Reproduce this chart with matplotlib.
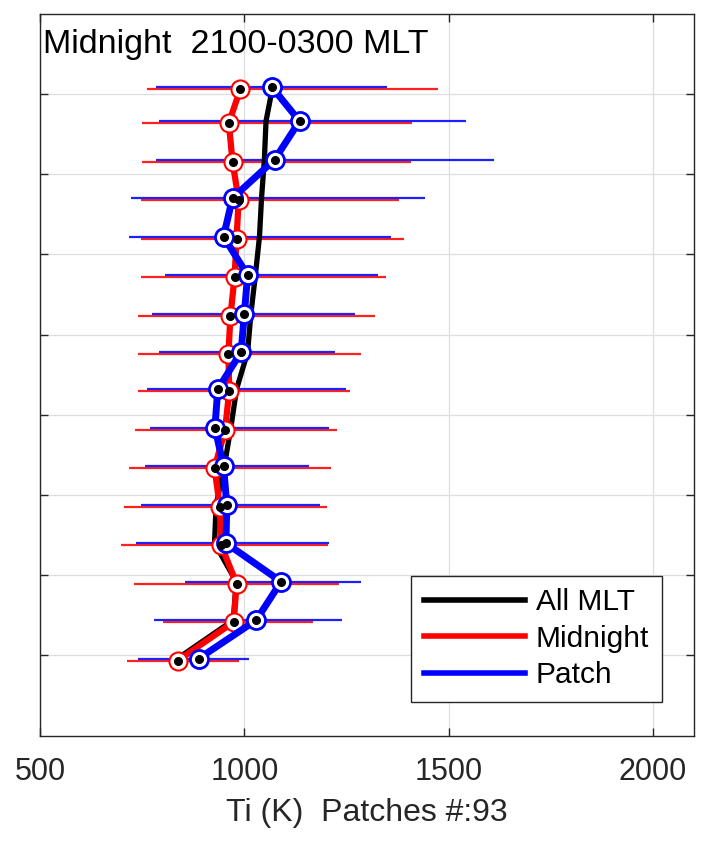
import matplotlib
matplotlib.use('Agg')
import matplotlib.pyplot as plt
from matplotlib.lines import Line2D
import numpy as np

plt.rcParams['font.family'] = ['Liberation Sans', 'DejaVu Sans']

# altitude levels (bottom to top), y axis has no labels
alt = [198, 222, 246, 270, 294, 318, 342, 366, 389, 413, 437, 461, 485, 509, 533, 554]

# All MLT mean Ti (K)
ti_all = [836, 973, 980, 927, 931, 951, 967, 981, 1008, 1016, 1027, 1037, 1042, 1049, 1053, 1069]

# Midnight sector Ti and its spread
ti_mid = [837, 974, 981, 943, 940, 927, 953, 963, 961, 966, 976, 981, 986, 971, 962, 990]
mid_lo = [714, 800, 729, 699, 706, 718, 733, 741, 741, 741, 747, 747, 747, 749, 749, 763]
mid_hi = [988, 1169, 1231, 1205, 1201, 1212, 1227, 1259, 1286, 1320, 1346, 1390, 1379, 1407, 1409, 1474]

# Patch Ti and its spread
ti_patch = [888, 1029, 1090, 955, 957, 949, 928, 935, 992, 1000, 1008, 949, 971, 1074, 1135, 1068]
patch_lo = [740, 779, 855, 735, 746, 757, 769, 762, 792, 774, 806, 718, 723, 784, 792, 784]
patch_hi = [1012, 1239, 1285, 1208, 1186, 1157, 1208, 1249, 1221, 1270, 1328, 1358, 1442, 1610, 1543, 1348]

title_text = 'Midnight  2100-0300 MLT'
xlabel_text = 'Ti (K)  Patches #:93'
xticks = [500, 1000, 1500, 2000]
yticks = [200, 250, 300, 350, 400, 450, 500, 550]

axis_col = '#262626'

fig = plt.figure(figsize=(7.09, 8.43), dpi=100)
ax = fig.add_axes([0.0564, 0.1273, 0.9224, 0.8566])

y = np.array(alt, dtype=float)
y_red = y - 1.2  # red drawn slightly lower, as in the original

# error bars (no caps)
xm = np.array(ti_mid)
ax.errorbar(xm, y_red, xerr=[xm - np.array(mid_lo), np.array(mid_hi) - xm],
            fmt='none', ecolor='#ff2020', elinewidth=1.6, capsize=0, zorder=2)
xp = np.array(ti_patch)
ax.errorbar(xp, y, xerr=[xp - np.array(patch_lo), np.array(patch_hi) - xp],
            fmt='none', ecolor='#2020ff', elinewidth=1.6, capsize=0, zorder=2.1)

# mean profiles
ax.plot(ti_all, y, color='black', lw=3.8, zorder=3, solid_capstyle='round')
ax.plot(ti_mid, y_red, color='red', lw=4.5, zorder=4,
        marker='o', ms=13, mfc='white', mec='red', mew=1.5)
ax.plot(ti_patch, y, color='blue', lw=5, zorder=5,
        marker='o', ms=13, mfc='white', mec='blue', mew=2)
# black centre dots
ax.plot(ti_mid, y_red, ls='none', marker='o', ms=5.5, color='black', zorder=6)
ax.plot(ti_patch, y, ls='none', marker='o', ms=5.5, color='black', zorder=6)

ax.set_xlim(500, 2100)
ax.set_ylim(150, 600)
ax.set_xticks(xticks)
ax.set_yticks(yticks)
ax.set_yticklabels([])
ax.grid(True, color='#dedede', lw=0.9)
ax.set_axisbelow(True)

ax.tick_params(axis='both', direction='in', length=6, width=1.0, color=axis_col,
               top=True, right=True, labelsize=22, labelcolor=axis_col, pad=15)
for s in ax.spines.values():
    s.set_color(axis_col)
    s.set_linewidth(1.0)

ax.set_xlabel(xlabel_text, fontsize=23, color=axis_col, labelpad=8)
ax.text(0.004, 0.945, title_text, transform=ax.transAxes, fontsize=24.5,
        color='black', va='baseline', ha='left')

handles = [Line2D([], [], color='black', lw=4),
           Line2D([], [], color='red', lw=4),
           Line2D([], [], color='blue', lw=4)]
leg = ax.legend(handles, ['All MLT', 'Midnight', 'Patch'], loc='lower right',
                bbox_to_anchor=(0.9506, 0.047), borderaxespad=0, fontsize=21.5,
                handlelength=3.4, handletextpad=0.35, labelspacing=0.28,
                fancybox=False, framealpha=1, edgecolor=axis_col, borderpad=0.42)
leg.get_frame().set_linewidth(1.0)

fig.savefig('out.png', dpi=100)
